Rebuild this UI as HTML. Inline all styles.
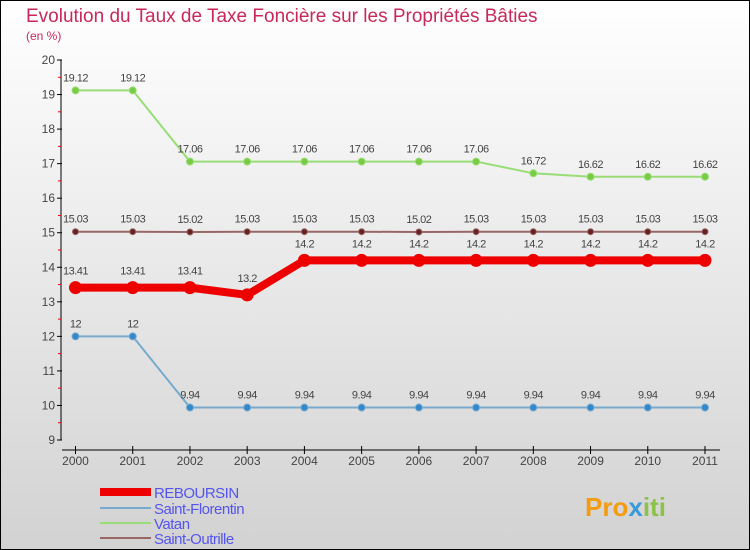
<!DOCTYPE html>
<html><head><meta charset="utf-8"><style>
body{margin:0;width:750px;height:550px;overflow:hidden;font-family:"Liberation Sans",sans-serif}
#c{position:absolute;left:0;top:0}
</style></head><body>
<svg id="c" width="750" height="550" xmlns="http://www.w3.org/2000/svg">
<defs><linearGradient id="bg" x1="0" y1="0" x2="0" y2="1"><stop offset="0" stop-color="#ffffff"/><stop offset="1" stop-color="#d2d2d2"/></linearGradient></defs>
<rect x="0.5" y="0.5" width="749" height="549" fill="url(#bg)" stroke="#000"/>
<text x="26" y="22" font-size="19" fill="#c8285a">Evolution du Taux de Taxe Foncière sur les Propriétés Bâties</text>
<text x="26" y="40" font-size="12" fill="#c8285a">(en %)</text>
<g id="axes"></g><g id="series"></g><g id="legend"></g>
<text x="585" y="516" font-size="26" font-weight="bold"><tspan fill="#f39c12">Pro</tspan><tspan fill="#3a9ad9">x</tspan><tspan fill="#8bc34a">iti</tspan></text>
</svg>
<script>
const years=[2000,2001,2002,2003,2004,2005,2006,2007,2008,2009,2010,2011];
const yTicks=[9,10,11,12,13,14,15,16,17,18,19,20];
const reboursin=[13.41,13.41,13.41,13.2,14.2,14.2,14.2,14.2,14.2,14.2,14.2,14.2];
const florentin=[12,12,9.94,9.94,9.94,9.94,9.94,9.94,9.94,9.94,9.94,9.94];
const vatan=[19.12,19.12,17.06,17.06,17.06,17.06,17.06,17.06,16.72,16.62,16.62,16.62];
const outrille=[15.03,15.03,15.02,15.03,15.03,15.03,15.02,15.03,15.03,15.03,15.03,15.03];
const NS="http://www.w3.org/2000/svg";
const X=i=>75.5+i*(705-75.5)/11;
const Y=v=>440-(v-9)*(380/11);
function mk(t,a,p){const e=document.createElementNS(NS,t);for(const k in a)e.setAttribute(k,a[k]);p.appendChild(e);return e;}
const ax=document.getElementById('axes');
const yl=mk('line',{x1:61,y1:60,x2:61,y2:440,stroke:'#000'},ax);


yTicks.forEach(v=>{
 mk('line',{x1:57,y1:Y(v),x2:62,y2:Y(v),stroke:'#000'},ax);
 if(v<20) mk('line',{x1:58,y1:Y(v+0.5),x2:61,y2:Y(v+0.5),stroke:'#e00'},ax);
 const t=mk('text',{x:55,y:Y(v)+4,'text-anchor':'end','font-size':12,fill:'#444'},ax);t.textContent=v;
 
 
});
const xl=mk('line',{x1:62,y1:450,x2:720,y2:450,stroke:'#000'},ax);


years.forEach((y,i)=>{
 mk('line',{x1:X(i),y1:446,x2:X(i),y2:454,stroke:'#000'},ax);
 const t=mk('text',{x:X(i),y:465,'text-anchor':'middle','font-size':12,fill:'#444'},ax);t.textContent=y;
 
 
});
const sg=document.getElementById('series');
function series(name,data,color,w,r,dot,labOff){
 const g=mk('g',{},sg);
 
 
 mk('polyline',{points:data.map((v,i)=>X(i)+','+Y(v)).join(' '),fill:'none',stroke:color,'stroke-width':w,'stroke-linejoin':'round'},g);
 data.forEach((v,i)=>{
  const c=mk('circle',{cx:X(i),cy:Y(v),r:r,fill:dot,stroke:color,'stroke-width':1},g);
  
  
  const t=mk('text',{x:X(i),y:Y(v)+labOff,'text-anchor':'middle','font-size':11,fill:'#444','letter-spacing':'-0.5'},g);t.textContent=v;
  
  
 });
}
series('vatan',vatan,'#99dd77',2,3.5,'#77cc44',-9);
series('saint-outrille',outrille,'#996666',2,3,'#662222',-9);
series('saint-florentin',florentin,'#77aacc',2,3.5,'#3388cc',-9);
series('reboursin',reboursin,'#ee0000',8,6,'#ee0000',-13);
const lg=document.getElementById('legend');
[['REBOURSIN','#ee0000',8],['Saint-Florentin','#77aacc',2],['Vatan','#99dd77',2],['Saint-Outrille','#996666',2]].forEach((d,i)=>{
 const y=[492,508,523,538][i];
 const g=mk('g',{},lg);
 
 
 mk('line',{x1:100,y1:y,x2:151,y2:y,stroke:d[1],'stroke-width':d[2]},g);
 const t=mk('text',{x:154,y:y+6,'font-size':15,fill:'#5555ee','letter-spacing':'-0.5'},g);t.textContent=d[0];
});
</script>
</body></html>
